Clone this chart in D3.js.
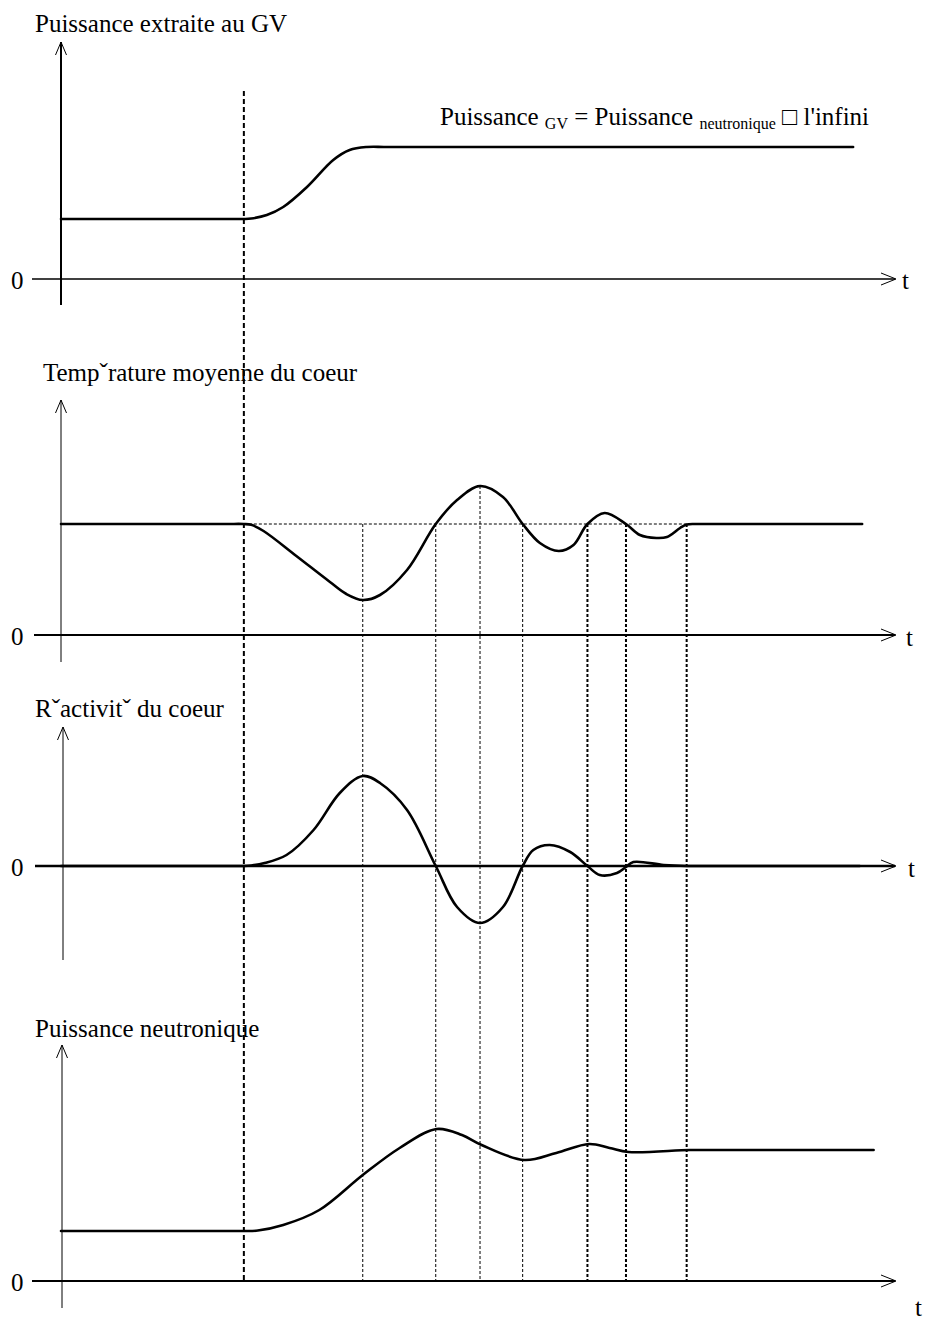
<!DOCTYPE html>
<html>
<head>
<meta charset="utf-8">
<script src="https://cdn.jsdelivr.net/npm/d3@7"></script>
<style>
  body { margin: 0; background: #fff; }
  text { font-family: "Liberation Serif", "Times New Roman", serif; fill: #000; }
</style>
</head>
<body>
<svg id="chart" width="926" height="1322"></svg>
<script>
// Time of the load step on the steam generator (t units, 0..100 across the plot)
const stepTime = 22.3;

// Power drawn at the steam generator
const extractedPower = [
  [0, 6.0], [20, 6.0], [22.3, 6.0], [23.2, 6.05], [25.1, 6.4], [27.1, 7.2], [30.0, 9.2],
  [33.2, 11.9], [35.2, 12.9], [37.3, 13.2], [40, 13.2], [96.6, 13.2]
];

// Mean core temperature and its reference level
const tempBase = 11.1;
const coreTemperature = [
  [0, 11.1], [20, 11.1], [22.3, 11.1], [23.2, 11.02], [24.7, 10.4], [28.7, 7.9], [32.8, 5.3],
  [34.8, 4.1], [36.8, 3.5], [38.9, 4.0], [42.2, 6.5], [45.7, 11.1], [48.3, 13.5], [51.1, 14.9],
  [53.9, 13.8], [56.3, 11.1], [58.4, 9.2], [60.7, 8.4], [62.5, 9.0], [64.2, 11.1], [66.3, 12.2],
  [68.9, 11.1], [70.6, 10.0], [72.6, 9.7], [73.9, 9.8], [75.5, 10.7], [76.3, 11.05],
  [77.5, 11.1], [80, 11.1], [97.7, 11.1]
];

// Core reactivity
const reactivity = [
  [0, 0], [20, 0], [22.3, 0], [23.2, 0.05], [24.7, 0.27], [27.5, 1.1], [30.8, 3.6], [34.0, 7.3],
  [36.8, 9.0], [38.9, 8.3], [42.2, 5.6], [45.7, 0], [48.3, -4.1], [51.1, -5.7], [53.9, -4.1],
  [56.3, 0], [57.6, 1.6], [59.6, 2.1], [62.1, 1.4], [64.2, 0], [65.7, -0.9],
  [67.8, -0.7], [68.9, -0.1], [69.8, 0.4], [73.5, 0.1], [76.3, 0], [79, 0], [97.4, 0]
];

// Neutron power
const neutronPower = [
  [0, 5.0], [20, 5.0], [22.3, 5.0], [24.0, 5.05], [27.1, 5.6], [31.5, 7.1], [36.8, 10.6],
  [41.3, 13.3], [45.8, 15.2], [48.9, 14.6], [51.3, 13.6], [56.5, 12.1], [60.4, 12.8],
  [64.4, 13.7], [66.9, 13.3], [69.2, 12.9], [76.7, 13.1], [80, 13.1], [99.1, 13.1]
];

// Instants where temperature reaches an extremum or crosses its reference
const eventTimes = [36.8, 45.7, 51.1, 56.3, 64.2, 68.9, 76.3];

const panelTitles = [
  "Puissance extraite au GV",
  "Temp\u02C7rature moyenne du coeur",
  "R\u02C7activit\u02C7 du coeur",
  "Puissance neutronique"
];
const zeroLabel = "0";
const timeLabel = "t";
const noteParts = [
  { text: "Puissance ", sub: false },
  { text: "GV", sub: true },
  { text: " = Puissance ", sub: false },
  { text: "neutronique", sub: true },
  { text: " \u25A1 l'infini", sub: false }
];

const svg = d3.select("#chart");
const x = d3.scaleLinear().domain([0, 100]).range([61, 881]);

// Panel layout: baseline position, vertical axis extent, text anchors
const panels = [
  { data: extractedPower, zero: 279, top: 42, bottom: 305, ax: 61, axW: 2, zW: 1.3, tx: 35, ty: 32, tt: [902, 289], z0: 32 },
  { data: coreTemperature, zero: 635, top: 400, bottom: 662, ax: 61, axW: 1, zW: 2, tx: 43, ty: 381, tt: [906, 646], z0: 34 },
  { data: reactivity, zero: 866, top: 727, bottom: 960, ax: 63, axW: 1, zW: 2.5, tx: 35, ty: 717, tt: [908, 877], z0: 35 },
  { data: neutronPower, zero: 1281, top: 1045, bottom: 1308, ax: 62, axW: 1, zW: 2, tx: 35, ty: 1037, tt: [915, 1316], z0: 32 }
];
panels.forEach(p => {
  p.y = d3.scaleLinear().domain([0, 1]).range([p.zero, p.zero - 10]);
});

const line = y => d3.line().x(d => x(d[0])).y(d => y(d[1])).curve(d3.curveCatmullRom.alpha(0.5));
const tipX = 896;

// Vertical guide lines, from the temperature curve (or its reference level) down to the last axis
const tempPanel = panels[1], lastPanel = panels[3];
const tempAt = t => coreTemperature.find(d => d[0] === t)[1];
svg.append("g").selectAll("line").data(eventTimes).join("line")
  .attr("x1", d => x(d)).attr("x2", d => x(d))
  .attr("y1", d => tempPanel.y(Math.max(tempBase, tempAt(d))))
  .attr("y2", lastPanel.zero)
  .attr("stroke", "#000")
  .attr("stroke-width", (d, i) => i >= 4 ? 2 : 1)
  .attr("stroke-dasharray", "3,2");

// Temperature reference level
svg.append("line")
  .attr("x1", x(stepTime)).attr("x2", x(eventTimes[eventTimes.length - 1]))
  .attr("y1", tempPanel.y(tempBase)).attr("y2", tempPanel.y(tempBase))
  .attr("stroke", "#000").attr("stroke-width", 1).attr("stroke-dasharray", "3,2");

// Load step instant
svg.append("line")
  .attr("x1", x(stepTime)).attr("x2", x(stepTime))
  .attr("y1", 91).attr("y2", lastPanel.zero)
  .attr("stroke", "#000").attr("stroke-width", 2).attr("stroke-dasharray", "5,3");

panels.forEach((p, i) => {
  const g = svg.append("g");
  // vertical axis with open arrowhead
  g.append("line").attr("x1", p.ax).attr("x2", p.ax).attr("y1", p.top).attr("y2", p.bottom)
    .attr("stroke", "#000").attr("stroke-width", p.axW);
  g.append("path").attr("d", `M${p.ax - 5.5},${p.top + 13}L${p.ax},${p.top}L${p.ax + 5.5},${p.top + 13}`)
    .attr("fill", "none").attr("stroke", "#000").attr("stroke-width", 1);
  // time axis with open arrowhead
  g.append("line").attr("x1", p.z0).attr("x2", tipX - 1).attr("y1", p.zero).attr("y2", p.zero)
    .attr("stroke", "#000").attr("stroke-width", p.zW);
  g.append("path").attr("d", `M${tipX - 15},${p.zero - 6}L${tipX},${p.zero}L${tipX - 15},${p.zero + 6}`)
    .attr("fill", "none").attr("stroke", "#000").attr("stroke-width", 1);
  // curve
  g.append("path").datum(p.data).attr("d", line(p.y))
    .attr("fill", "none").attr("stroke", "#000").attr("stroke-width", 2.6)
    .attr("stroke-linejoin", "round").attr("stroke-linecap", "round");
  // labels
  g.append("text").attr("x", p.tx).attr("y", p.ty).attr("font-size", 25).text(panelTitles[i]);
  g.append("text").attr("x", 11).attr("y", p.zero + 10).attr("font-size", 25).text(zeroLabel);
  g.append("text").attr("x", p.tt[0]).attr("y", p.tt[1]).attr("font-size", 25).text(timeLabel);
});

// Annotation over the final steam-generator power level
const note = svg.append("text").attr("x", 440).attr("y", 125).attr("font-size", 25)
  .style("white-space", "pre");
let lowered = false;
noteParts.forEach(part => {
  const ts = note.append("tspan").text(part.text);
  if (part.sub && !lowered) { ts.attr("dy", 4).attr("font-size", 16); lowered = true; }
  else if (part.sub) { ts.attr("font-size", 16); }
  else if (lowered) { ts.attr("dy", -4); lowered = false; }
});
</script>
</body>
</html>
